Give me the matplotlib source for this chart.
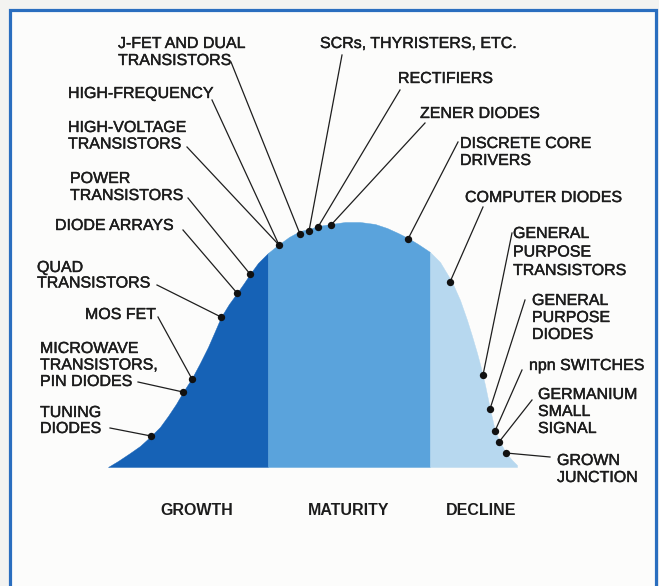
import matplotlib.pyplot as plt
import matplotlib.patheffects as pe
from matplotlib.patches import Rectangle
import numpy as np

plt.rcParams['font.family'] = ['Liberation Sans', 'DejaVu Sans']

# outline of the life-cycle curve, in frame units (y grows downward)
curve_x = [108, 118, 130, 140, 151, 160, 168, 176, 183, 192, 200, 208, 215, 221,
           229, 237, 244, 250, 258, 268, 278, 289, 300, 309, 318, 331, 345, 360,
           375, 387, 398, 408, 418, 430, 440, 452, 460, 467, 472, 477, 481, 485,
           490, 495, 500, 506, 512, 517]
curve_y = [467, 461, 453, 446, 436, 427, 416, 404, 392, 378, 363, 347, 331, 317,
           304, 293, 283, 274, 263, 253, 245, 237, 231, 229, 226, 224, 222, 222,
           224, 228, 233, 238, 244, 252, 262, 282, 300, 320, 336, 353, 368, 385,
           409, 431, 442, 453, 460, 465]
baseline = 467

# stage boundaries along the cycle
phases = ['GROWTH', 'MATURITY', 'DECLINE']
phase_edges = [108, 268, 430, 517]
phase_colors = ['#1662b6', '#5aa3dc', '#b7d8ef']

# product families and where they sit on the curve
dot_x = [151, 183, 192, 221, 237, 250, 279, 300, 309, 318, 331, 408, 450,
         483, 490, 495, 499, 506]
dot_y = [436, 392, 379, 317, 293, 274, 245, 234, 231, 227, 225, 239, 282,
         375, 409, 431, 442, 453]

# label text, left x, first baseline, line pitch, leader start, dot index
labels = [
    ('TUNING\nDIODES', 40, 417, 16, (110, 428), 0),
    ('MICROWAVE\nTRANSISTORS,\nPIN DIODES', 40, 353, 16.5, (138, 382), 1),
    ('MOS FET', 85, 319, 16, (158, 317), 2),
    ('QUAD\nTRANSISTORS', 37, 272, 15.5, (157, 285), 3),
    ('DIODE ARRAYS', 55, 230, 16, (183, 230), 4),
    ('POWER\nTRANSISTORS', 70, 183, 17, (188, 198), 5),
    ('HIGH-VOLTAGE\nTRANSISTORS', 68, 132, 16.5, (187, 147), 6),
    ('HIGH-FREQUENCY', 68, 98, 16, (212, 100), 6),
    ('J-FET AND DUAL\nTRANSISTORS', 118, 48, 17, (231, 62), 7),
    ('SCRs, THYRISTERS, ETC.', 320, 48, 16, (342, 55), 8),
    ('RECTIFIERS', 398, 83, 16, (400, 90), 9),
    ('ZENER DIODES', 420, 118, 16, (425, 123), 10),
    ('DISCRETE CORE\nDRIVERS', 460, 148, 17, (458, 142), 11),
    ('COMPUTER DIODES', 465, 202, 16, (483, 207), 12),
    ('GENERAL\nPURPOSE\nTRANSISTORS', 513, 238, 18.5, (512, 233), 13),
    ('GENERAL\nPURPOSE\nDIODES', 532, 305, 17, (525, 300), 14),
    ('npn SWITCHES', 529, 370, 16, (522, 370), 15),
    ('GERMANIUM\nSMALL\nSIGNAL', 538, 399, 17, (532, 400), 16),
    ('GROWN\nJUNCTION', 557, 465, 17, (550, 457), 17),
]
phase_label_x = [197, 349, 481]
text_color = '#1c1c1c'
heavier = [pe.withStroke(linewidth=0.3, foreground=text_color)]

fig = plt.figure(figsize=(6.59, 5.86), dpi=100, facecolor='#f3f3f1')
ax = fig.add_axes([0, 0, 1, 1])
ax.set_xlim(0, 659)
ax.set_ylim(586, 0)
ax.axis('off')

# blue frame, bottom edge runs off the page
ax.add_patch(Rectangle((10, 10), 646, 600, facecolor='#fcfcfb',
                       edgecolor='#2a6ebf', linewidth=2.3, zorder=0))

cx = np.array(curve_x)
cy = np.array(curve_y)
for i, color in enumerate(phase_colors):
    lo, hi = phase_edges[i], phase_edges[i + 1]
    m = (cx >= lo) & (cx <= hi)
    ax.fill_between(cx[m], cy[m], baseline, color=color, linewidth=0.3,
                    edgecolor=color, zorder=1)

# leader lines and text
for text, lx, ly, pitch, start, k in labels:
    ax.plot([start[0], dot_x[k]], [start[1], dot_y[k]], color='#1e1e1e',
            linewidth=0.9, zorder=2)
    for j, line in enumerate(text.split('\n')):
        ax.text(lx, ly + j * pitch, line, fontsize=11.5, color=text_color,
                ha='left', va='baseline', path_effects=heavier)

ax.scatter(dot_x, dot_y, s=28, color='#111111', zorder=3, linewidths=0)

for name, x in zip(phases, phase_label_x):
    ax.text(x, 515, name, fontsize=11.5, fontweight='bold', color=text_color,
            ha='center', va='baseline')

fig.savefig('out.png', dpi=100, facecolor=fig.get_facecolor())
